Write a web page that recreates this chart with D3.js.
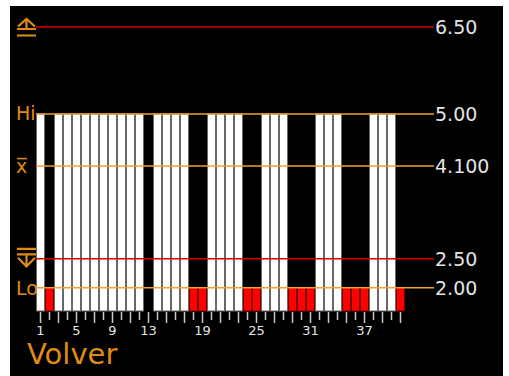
<!DOCTYPE html>
<html lang="es">
  <head>
    <meta charset="utf-8" />
    <title>Volver</title>
    <script type="text/javascript" src="https://cdn.jsdelivr.net/npm/d3@7"></script>
    <style type="text/css">
      body { margin: 0; background: #fff; }
      text { font-family: "DejaVu Sans", sans-serif; }
    </style>
  </head>

  <body>
    <script type="text/javascript">
      // bar numbers and measured values (null = no value)
      const categories = [1, 2, 3, 4, 5, 6, 7, 8, 9, 10, 11, 12, 13, 14, 15, 16, 17, 18, 19, 20,
        21, 22, 23, 24, 25, 26, 27, 28, 29, 30, 31, 32, 33, 34, 35, 36, 37, 38, 39, 40, 41];
      const values = [5, 2, 5, 5, 5, 5, 5, 5, 5, 5, 5, 5, null, 5, 5, 5, 5, 2, 2, 5,
        5, 5, 5, 2, 2, 5, 5, 5, 2, 2, 2, 5, 5, 5, 2, 2, 2, 5, 5, 5, 2];
      const tickLabels = [1, 5, 9, 13, 19, 25, 31, 37];

      // reference lines: upper limit, Hi, mean, lower limit, Lo
      const refValues = [6.5, 5.0, 4.1, 2.5, 2.0];
      const refLabels = ["6.50", "5.00", "4.100", "2.50", "2.00"];
      const refKinds = ["limit", "spec", "mean", "limit", "spec"];

      const orange = "#f0a030";
      const textOrange = "#e08c14";
      const red = "#d00000";

      const svg = d3
        .select("body")
        .append("svg")
        .attr("width", 509)
        .attr("height", 376);

      // black screen
      svg.append("rect")
        .attr("x", 10)
        .attr("y", 6)
        .attr("width", 493)
        .attr("height", 370)
        .attr("fill", "#000");

      const x = d3.scaleBand().domain(categories).range([36, 405]).padding(0);
      const y = d3.scaleLinear().domain([1.6, 6.5]).range([311, 27]);

      // bars
      svg.selectAll("rect.bar")
        .data(values.map(function (v, i) { return { c: categories[i], v: v }; })
          .filter(function (d) { return d.v !== null; }))
        .enter()
        .append("rect")
        .attr("class", "bar")
        .attr("x", function (d) { return x(d.c) + 0.5; })
        .attr("width", x.bandwidth() - 1)
        .attr("y", function (d) { return y(d.v); })
        .attr("height", function (d) { return y(1.6) - y(d.v); })
        .attr("fill", function (d) { return d.v <= 2.0 ? "#ff0000" : "#ffffff"; })
        .attr("stroke", function (d) { return d.v <= 2.0 ? "#7a0000" : "#686868"; })
        .attr("stroke-width", 1);

      // reference lines
      svg.selectAll("line.ref")
        .data(refValues)
        .enter()
        .append("line")
        .attr("class", "ref")
        .attr("x1", 36)
        .attr("x2", 434)
        .attr("y1", function (d) { return y(d); })
        .attr("y2", function (d) { return y(d); })
        .attr("stroke", function (d, i) { return refKinds[i] === "limit" ? red : orange; })
        .attr("stroke-width", 1.5);

      svg.selectAll("text.ref")
        .data(refValues)
        .enter()
        .append("text")
        .attr("class", "ref")
        .attr("x", 435)
        .attr("y", function (d) { return y(d) + 7; })
        .attr("font-size", 19)
        .attr("fill", "#e4e4e4")
        .text(function (d, i) { return refLabels[i]; });

      // left labels
      svg.append("text").attr("x", 16).attr("y", y(5.0) + 6.5)
        .attr("font-size", 19).attr("fill", textOrange).text("Hi");
      svg.append("text").attr("x", 16).attr("y", y(2.0) + 7)
        .attr("font-size", 19).attr("fill", textOrange).text("Lo");
      svg.append("text").attr("x", 16).attr("y", y(4.1) + 6.5)
        .attr("font-size", 19).attr("fill", textOrange).text("x");
      svg.append("line").attr("x1", 17).attr("x2", 27)
        .attr("y1", y(4.1) - 7.5).attr("y2", y(4.1) - 7.5)
        .attr("stroke", textOrange).attr("stroke-width", 1.5);

      // upper limit symbol
      const uy = y(6.5);
      svg.append("path")
        .attr("d", "M18," + (uy - 0.5) + "L26.5," + (uy - 8) + "L35," + (uy - 0.5) +
          "M26.5," + (uy - 8) + "V" + (uy + 2) +
          "M17," + (uy + 2) + "H36" + "M17," + (uy + 8.5) + "H36")
        .attr("fill", "none")
        .attr("stroke", textOrange)
        .attr("stroke-width", 2.2);

      // lower limit symbol
      const ly = y(2.5);
      svg.append("path")
        .attr("d", "M17," + (ly - 10) + "H36" + "M17," + (ly - 4.5) + "H36" +
          "M26.5," + (ly - 4.5) + "V" + (ly + 7.5) +
          "M18," + (ly - 1) + "L26.5," + (ly + 7.5) + "L35," + (ly - 1))
        .attr("fill", "none")
        .attr("stroke", textOrange)
        .attr("stroke-width", 2.2);

      // x ticks
      svg.selectAll("line.tick")
        .data(categories)
        .enter()
        .append("line")
        .attr("class", "tick")
        .attr("x1", function (d) { return x(d) + x.bandwidth() / 2; })
        .attr("x2", function (d) { return x(d) + x.bandwidth() / 2; })
        .attr("y1", 312)
        .attr("y2", function (d) { return d % 2 === 1 ? 323 : 320; })
        .attr("stroke", "#c8c8c8")
        .attr("stroke-width", 1.5);

      svg.selectAll("text.tick")
        .data(tickLabels)
        .enter()
        .append("text")
        .attr("class", "tick")
        .attr("x", function (d) { return x(d) + x.bandwidth() / 2; })
        .attr("y", 335)
        .attr("text-anchor", "middle")
        .attr("font-size", 13)
        .attr("fill", "#e4e4e4")
        .text(function (d) { return d; });

      // back button label
      svg.append("text")
        .attr("x", 27)
        .attr("y", 364)
        .attr("font-size", 29)
        .attr("fill", textOrange)
        .text("Volver");
    </script>
  </body>
</html>
